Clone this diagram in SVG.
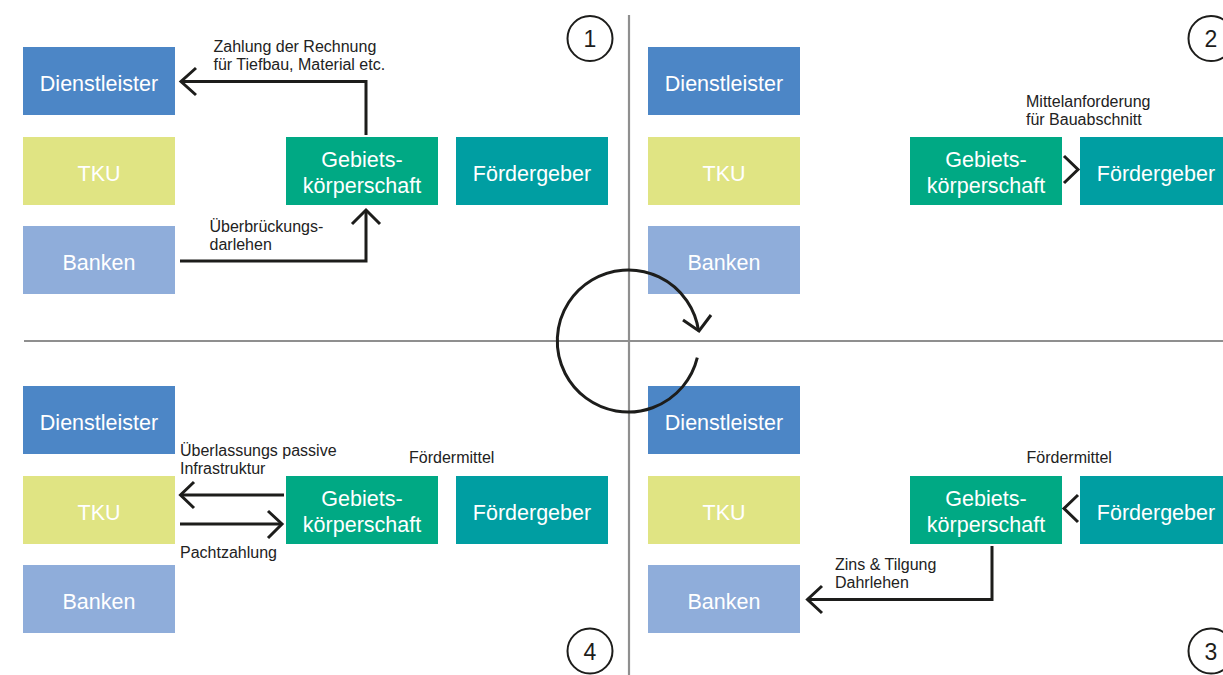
<svg xmlns="http://www.w3.org/2000/svg" width="1223" height="675" viewBox="0 0 1223 675">
<style>
.n{stroke:none}
.d{fill:#4c86c6}.t{fill:#e0e483}.b{fill:#8fadda}.g{fill:#00a984}.f{fill:#009ea2}
.nt{font-family:"Liberation Sans",Arial,sans-serif;font-size:21.5px;fill:#ffffff;text-anchor:middle}
.lb{font-family:"Liberation Sans",Arial,sans-serif;font-size:16px;fill:#222222}
.c{fill:none;stroke:#1d1d1b;stroke-width:3;stroke-linejoin:miter}
.ax{fill:none;stroke:#8f8f8f;stroke-width:2.2}
.num{fill:none;stroke:#1d1d1b;stroke-width:2}
.nn{font-family:"Liberation Sans",Arial,sans-serif;font-size:23px;fill:#1d1d1b;text-anchor:middle}
</style>
<rect width="1223" height="675" fill="#ffffff"/>
<g id="axes">
<line class="ax" x1="629" y1="15" x2="629" y2="675"/>
<line class="ax" x1="24" y1="341" x2="1223" y2="341"/>
</g>
<g id="q1-dienstleister"><rect class="d" x="23" y="47" width="152" height="68"/><text class="nt" x="99" y="90.5">Dienstleister</text></g>
<g id="q1-tku"><rect class="t" x="23" y="137" width="152" height="68"/><text class="nt" x="99" y="180.5">TKU</text></g>
<g id="q1-banken"><rect class="b" x="23" y="226" width="152" height="68"/><text class="nt" x="99" y="269.5">Banken</text></g>
<g id="q1-gebiet"><rect class="g" x="286" y="137" width="152" height="68"/><text class="nt" x="362" y="167">Gebiets-</text><text class="nt" x="362" y="193">körperschaft</text></g>
<g id="q1-foerder"><rect class="f" x="456" y="137" width="152" height="68"/><text class="nt" x="532" y="180.5">Fördergeber</text></g>
<g id="q2-dienstleister"><rect class="d" x="648" y="47" width="152" height="68"/><text class="nt" x="724" y="90.5">Dienstleister</text></g>
<g id="q2-tku"><rect class="t" x="648" y="137" width="152" height="68"/><text class="nt" x="724" y="180.5">TKU</text></g>
<g id="q2-banken"><rect class="b" x="648" y="226" width="152" height="68"/><text class="nt" x="724" y="269.5">Banken</text></g>
<g id="q2-gebiet"><rect class="g" x="910" y="137" width="152" height="68"/><text class="nt" x="986" y="167">Gebiets-</text><text class="nt" x="986" y="193">körperschaft</text></g>
<g id="q2-foerder"><rect class="f" x="1080" y="137" width="152" height="68"/><text class="nt" x="1156" y="180.5">Fördergeber</text></g>
<g id="q3-dienstleister"><rect class="d" x="648" y="386" width="152" height="68"/><text class="nt" x="724" y="429.5">Dienstleister</text></g>
<g id="q3-tku"><rect class="t" x="648" y="476" width="152" height="68"/><text class="nt" x="724" y="519.5">TKU</text></g>
<g id="q3-banken"><rect class="b" x="648" y="565" width="152" height="68"/><text class="nt" x="724" y="608.5">Banken</text></g>
<g id="q3-gebiet"><rect class="g" x="910" y="476" width="152" height="68"/><text class="nt" x="986" y="506">Gebiets-</text><text class="nt" x="986" y="532">körperschaft</text></g>
<g id="q3-foerder"><rect class="f" x="1080" y="476" width="152" height="68"/><text class="nt" x="1156" y="519.5">Fördergeber</text></g>
<g id="q4-dienstleister"><rect class="d" x="23" y="386" width="152" height="68"/><text class="nt" x="99" y="429.5">Dienstleister</text></g>
<g id="q4-tku"><rect class="t" x="23" y="476" width="152" height="68"/><text class="nt" x="99" y="519.5">TKU</text></g>
<g id="q4-banken"><rect class="b" x="23" y="565" width="152" height="68"/><text class="nt" x="99" y="608.5">Banken</text></g>
<g id="q4-gebiet"><rect class="g" x="286" y="476" width="152" height="68"/><text class="nt" x="362" y="506">Gebiets-</text><text class="nt" x="362" y="532">körperschaft</text></g>
<g id="q4-foerder"><rect class="f" x="456" y="476" width="152" height="68"/><text class="nt" x="532" y="519.5">Fördergeber</text></g>
<g id="numbers">
<circle class="num" cx="590" cy="38.5" r="22.5"/><text class="nn" x="590" y="47">1</text>
<circle class="num" cx="1211" cy="38.5" r="22.5"/><text class="nn" x="1211" y="47">2</text>
<circle class="num" cx="1211" cy="651" r="22.5"/><text class="nn" x="1211" y="659.5">3</text>
<circle class="num" cx="590" cy="651" r="22.5"/><text class="nn" x="590" y="659.5">4</text>
</g>
<g id="connectors">
<path class="c" d="M366 135 V81.5 H182"/>
<path class="c" d="M196 68 L181 81.5 L196 95"/>
<path class="c" d="M180 261 H366 V211"/>
<path class="c" d="M352 224 L366 210 L380 224"/>
<path class="c" d="M1064 156 L1078 169.5 L1064 183"/>
<path class="c" d="M1078 495 L1064 508.5 L1078 522"/>
<path class="c" d="M992 546 V599.5 H809"/>
<path class="c" d="M822 586 L807.5 599.5 L822 613"/>
<path class="c" d="M284 495 H182"/>
<path class="c" d="M194 482 L180.5 495 L194 508"/>
<path class="c" d="M180 524 H281"/>
<path class="c" d="M268 511 L282 524 L268 538"/>
<path class="c" d="M697.3 357.7 A71 71 0 1 1 698.6 331.1"/>
<path class="c" d="M683 320 L699 331 L711 315"/>
</g>
<g id="labels">
<text class="lb" x="213.5" y="52">Zahlung der Rechnung</text>
<text class="lb" x="213.5" y="70">für Tiefbau, Material etc.</text>
<text class="lb" x="209.5" y="232">Überbrückungs-</text>
<text class="lb" x="209.5" y="250">darlehen</text>
<text class="lb" x="1026" y="107">Mittelanforderung</text>
<text class="lb" x="1026" y="125">für Bauabschnitt</text>
<text class="lb" x="180" y="456">Überlassungs passive</text>
<text class="lb" x="180" y="474">Infrastruktur</text>
<text class="lb" x="180" y="558">Pachtzahlung</text>
<text class="lb" x="409" y="463">Fördermittel</text>
<text class="lb" x="1026.5" y="463">Fördermittel</text>
<text class="lb" x="835" y="570">Zins &amp; Tilgung</text>
<text class="lb" x="835" y="588">Dahrlehen</text>
</g>
</svg>
